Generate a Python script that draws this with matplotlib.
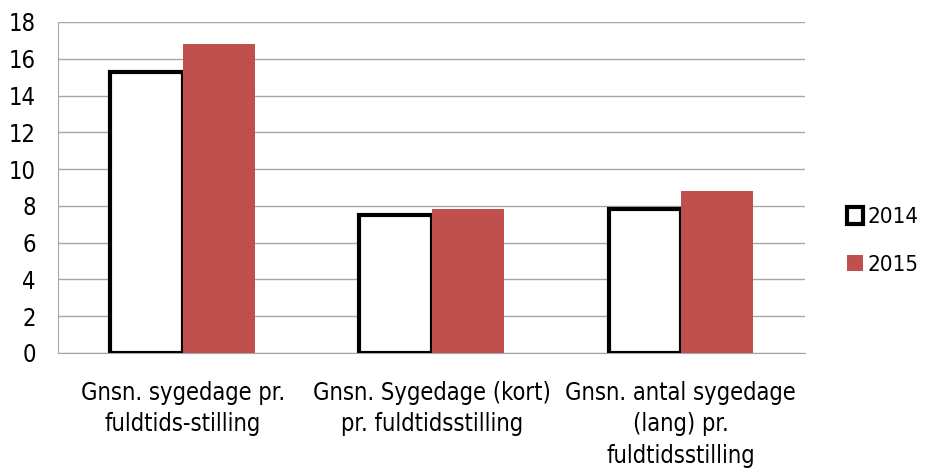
import numpy as np
import matplotlib
matplotlib.use('Agg')
import matplotlib.pyplot as plt

plt.rcParams['font.family'] = ['DejaVu Sans']
plt.rcParams['font.stretch'] = 'condensed'

categories = ['Gnsn. sygedage pr.\nfuldtids-stilling',
              'Gnsn. Sygedage (kort)\npr. fuldtidsstilling',
              'Gnsn. antal sygedage\n(lang) pr.\nfuldtidsstilling']
v2014 = [15.3, 7.5, 7.8]
v2015 = [16.8, 7.8, 8.8]

fig = plt.figure(figsize=(9.3, 4.68), dpi=100)
ax = fig.add_axes([0.0624, 0.246, 0.8036, 0.707])

x = np.arange(len(categories))
w = 0.29
ax.bar(x - w / 2, v2014, w, facecolor='white', edgecolor='black',
       linewidth=3, label='2014', zorder=3)
ax.bar(x + w / 2, v2015, w, color='#C0504D', label='2015', zorder=3)

ax.set_xlim(-0.5, 2.5)
ax.set_ylim(0, 18)
ax.set_yticks(range(0, 19, 2))
ax.yaxis.grid(True, color='#a6a6a6', linewidth=1, zorder=0)
ax.set_xticks(x)
ax.set_xticklabels(categories, fontsize=17, linespacing=1.4)
ax.tick_params(axis='x', length=0, pad=20)
ax.tick_params(axis='y', length=0, pad=16, labelsize=17)
for s in ['top', 'right']:
    ax.spines[s].set_visible(False)
for s in ['left', 'bottom']:
    ax.spines[s].set_color('#a6a6a6')

fig.legend(loc='center left', bbox_to_anchor=(0.889, 0.485), frameon=False,
           fontsize=16, handlelength=0.75, handleheight=0.75,
           handletextpad=0.2, labelspacing=1.25)

fig.savefig('out.png', dpi=100)
